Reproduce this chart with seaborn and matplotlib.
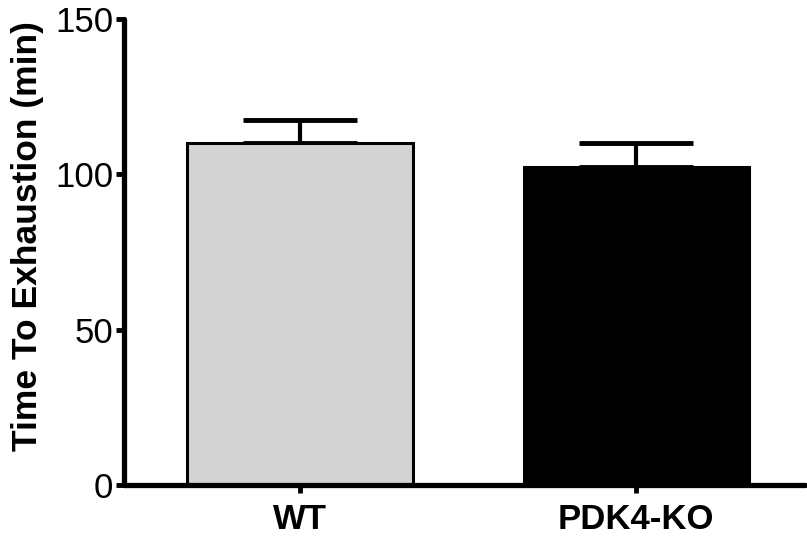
import pandas as pd
import matplotlib
matplotlib.use("Agg")
import matplotlib.pyplot as plt
import seaborn as sns

groups = ["WT", "PDK4-KO"]
means = [110, 102.5]
sems = [7.5, 7.5]
colors = ["#d3d3d3", "#000000"]

df = pd.DataFrame({"group": groups, "time": means})

sns.set_style("ticks", rc={"text.color": "black", "axes.labelcolor": "black",
                           "xtick.color": "black", "ytick.color": "black",
                           "axes.edgecolor": "black"})
plt.rcParams["font.family"] = ["Liberation Sans", "DejaVu Sans"]

fig = plt.figure(figsize=(8.07, 5.44), dpi=100)
ax = fig.add_axes([0.154, 0.108, 0.843, 0.857])

# error bars first so the lower cap hides behind the bars
ax.errorbar(range(len(groups)), means, yerr=[[0] * len(sems), sems], fmt="none",
            ecolor="black", elinewidth=3, capsize=41, capthick=3.5, zorder=1)
sns.barplot(data=df, x="group", y="time", hue="group", palette=colors,
            width=0.67, edgecolor="black", linewidth=2.2, errorbar=None,
            legend=False, ax=ax, zorder=2)

ax.set_xlim(-0.522, 1.5)
ax.set_ylim(0, 150)
ax.set_yticks([0, 50, 100, 150])
ax.set_xlabel("")
ax.set_ylabel("Time To Exhaustion (min)", fontsize=25.5, fontweight="bold")
ax.yaxis.set_label_coords(-0.118, 0.535)
ax.tick_params(axis="y", labelsize=25, width=3.5, length=6, pad=2)
ax.tick_params(axis="x", labelsize=25, width=3.5, length=6, pad=7)
for lab in ax.get_xticklabels():
    lab.set_fontweight("bold")
for s in ["left", "bottom"]:
    ax.spines[s].set_linewidth(3.8)
    ax.spines[s].set_capstyle("round")
sns.despine(ax=ax)

fig.savefig("out.png", dpi=100)
